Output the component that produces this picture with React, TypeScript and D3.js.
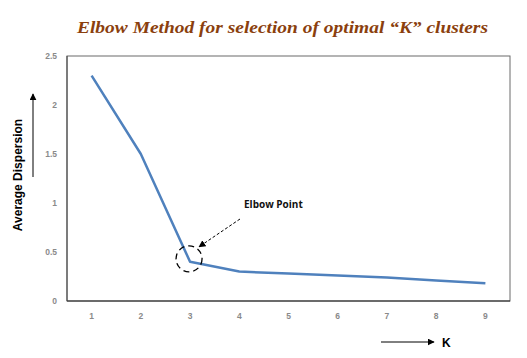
import React from "react";
import * as d3 from "d3";

const kValues = ["1", "2", "3", "4", "5", "6", "7", "8", "9"];
const dispersion = [2.3, 1.5, 0.4, 0.3, 0.28, 0.26, 0.24, 0.21, 0.18];
const yTicks = [0, 0.5, 1, 1.5, 2, 2.5];
const yTickLabels = ["0", "0.5", "1", "1.5", "2", "2.5"];
const titleText = "Elbow Method for selection of optimal \u201CK\u201D clusters";
const elbowIndex = 2;

export default function App() {
  const W = 527, H = 358;
  const left = 67, right = 510, top = 56, bottom = 301;
  const x = d3.scaleBand<string>().domain(kValues).range([left, right]);
  const y = d3.scaleLinear().domain([0, 2.5]).range([bottom, top]);
  const cx = (k: string) => (x(k) as number) + x.bandwidth() / 2;
  const line = d3
    .line<number>()
    .x((_, i) => cx(kValues[i]))
    .y((d) => y(d));
  const ex = cx(kValues[elbowIndex]);
  const ey = y(dispersion[elbowIndex]);

  return (
    <svg
      width={W}
      height={H}
      style={{ position: "absolute", left: 0, top: 0, background: "#fff" }}
    >
      <defs>
        <marker id="ah" viewBox="0 0 10 10" refX="9" refY="5" markerWidth="7" markerHeight="7" orient="auto">
          <path d="M0,0 L10,5 L0,10 z" fill="#000" />
        </marker>
      </defs>
      <rect width={W} height={H} fill="#fff" />
      <text
        x={77}
        y={33}
        fontFamily="'Liberation Serif', serif"
        fontStyle="italic"
        fontWeight="bold"
        fontSize={17}
        fill="#8B3F0E"
        textLength={411}
        lengthAdjust="spacingAndGlyphs"
      >
        {titleText}
      </text>
      {/* frame */}
      <rect x={left} y={top} width={right - left} height={bottom - top} fill="none" stroke="#6b6b6b" strokeWidth={1} />
      <line x1={left} x2={right} y1={bottom} y2={bottom} stroke="#222" strokeWidth={1.2} />
      <line x1={left} x2={left} y1={top} y2={bottom} stroke="#444" strokeWidth={1} />
      {/* y ticks */}
      {yTicks.map((t, i) => (
        <text
          key={t}
          x={57}
          y={y(t) + 3}
          textAnchor="end"
          fontFamily="'Liberation Sans', Arial, sans-serif"
          fontSize={8.5}
          fontWeight="bold"
          fill="#8a8a8a"
        >
          {yTickLabels[i]}
        </text>
      ))}
      {/* x ticks */}
      {kValues.map((k) => (
        <text
          key={k}
          x={cx(k)}
          y={319}
          textAnchor="middle"
          fontFamily="'Liberation Sans', Arial, sans-serif"
          fontSize={8.5}
          fontWeight="bold"
          fill="#8a8a8a"
        >
          {k}
        </text>
      ))}
      {/* line */}
      <path d={line(dispersion) || ""} fill="none" stroke="#4F81BD" strokeWidth={2.5} strokeLinejoin="round" />
      {/* elbow annotation */}
      <circle cx={ex - 1} cy={ey - 3} r={13} fill="none" stroke="#000" strokeWidth={1.3} strokeDasharray="6,4" />
      <line x1={240} y1={219} x2={ex + 9} y2={ey - 15} stroke="#000" strokeWidth={1} strokeDasharray="3,2" markerEnd="url(#ah)" />
      <text
        x={244}
        y={208}
        fontFamily="'Open Sans', 'DejaVu Sans', sans-serif"
        fontSize={10}
        fontWeight="bold"
        fill="#111"
      >
        Elbow Point
      </text>
      {/* y axis label */}
      <text
        transform="translate(22,175) rotate(-90)"
        textAnchor="middle"
        fontFamily="'Liberation Sans', Arial, sans-serif"
        fontSize={12}
        fontWeight="bold"
        fill="#000"
      >
        Average Dispersion
      </text>
      <line x1={33} y1={177} x2={33} y2={94} stroke="#000" strokeWidth={1} markerEnd="url(#ah)" />
      {/* x axis label */}
      <line x1={381} y1={342} x2={434} y2={342} stroke="#000" strokeWidth={1} markerEnd="url(#ah)" />
      <text
        x={442}
        y={347}
        fontFamily="'Liberation Sans', Arial, sans-serif"
        fontSize={12}
        fontWeight="bold"
        fill="#000"
      >
        K
      </text>
    </svg>
  );
}
